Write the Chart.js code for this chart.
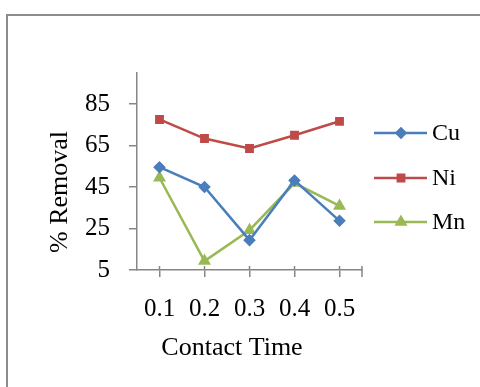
<!DOCTYPE html>
<html>
<head>
<meta charset="utf-8">
<script src="https://cdn.jsdelivr.net/npm/chart.js@4"></script>
<style>
  html, body { margin: 0; padding: 0; background: #fff; }
  #chart { display: block; }
</style>
</head>
<body>
<canvas id="chart" width="480" height="387"></canvas>
<script>
const categories = ["0.1", "0.2", "0.3", "0.4", "0.5"];
const cuValues = [54.6, 45.0, 19.4, 48.2, 28.7];
const niValues = [77.6, 68.4, 63.6, 70.0, 76.7];
const mnValues = [49.5, 9.3, 24.2, 46.9, 35.9];
const yTickValues = [5, 25, 45, 65, 85];
const xTitle = "Contact Time";
const yTitle = "% Removal";

const serif = "'Liberation Serif', 'Times New Roman', serif";
const axisGray = "#868686";

// frame, axis titles, legend and the cross tick marks of the category axis
const decorations = {
  id: "decorations",
  afterDraw(chart) {
    const ctx = chart.ctx;
    const area = chart.chartArea;
    const xScale = chart.scales.x;
    ctx.save();

    ctx.strokeStyle = "#8c8c8c";
    ctx.lineWidth = 2;
    ctx.strokeRect(7, 15, 700, 700);

    ctx.strokeStyle = axisGray;
    ctx.lineWidth = 1.5;
    ctx.beginPath();
    categories.forEach((c, i) => {
      const x = xScale.getPixelForValue(i);
      ctx.moveTo(x, area.bottom - 4);
      ctx.lineTo(x, area.bottom);
    });
    ctx.moveTo(area.right, area.bottom - 4);
    ctx.lineTo(area.right, area.bottom + 7);
    ctx.stroke();

    ctx.fillStyle = "#000";
    ctx.font = "26px " + serif;
    ctx.textAlign = "center";
    ctx.textBaseline = "middle";
    ctx.fillText(xTitle, 232, 348);

    ctx.save();
    ctx.translate(60, 192);
    ctx.rotate(-Math.PI / 2);
    ctx.fillText(yTitle, 0, 0);
    ctx.restore();

    const rows = [133, 178, 222];
    chart.data.datasets.forEach((ds, i) => {
      const y = rows[i];
      ctx.strokeStyle = ds.borderColor;
      ctx.lineWidth = 2.5;
      ctx.beginPath();
      ctx.moveTo(374, y);
      ctx.lineTo(427, y);
      ctx.stroke();
      Chart.helpers.drawPoint(ctx, {
        pointStyle: ds.pointStyle,
        radius: ds.pointRadius,
        rotation: 0,
        borderWidth: 1
      }, 401, y);
      ctx.fillStyle = ds.borderColor;
      ctx.fill();
      ctx.fillStyle = "#000";
      ctx.font = "24px " + serif;
      ctx.textAlign = "left";
      ctx.fillText(ds.label, 432, y + 1);
    });

    ctx.restore();
  }
};

function series(label, values, color, pointStyle, radius) {
  return {
    label: label,
    data: values,
    borderColor: color,
    backgroundColor: color,
    pointBackgroundColor: color,
    pointBorderColor: color,
    pointStyle: pointStyle,
    pointRadius: radius,
    borderWidth: 2.5,
    tension: 0,
    fill: false
  };
}

new Chart(document.getElementById("chart"), {
  type: "line",
  data: {
    labels: categories,
    datasets: [
      series("Cu", cuValues, "#4a7ebb", "rectRot", 4.5),
      series("Ni", niValues, "#be4b48", "rect", 4.5),
      series("Mn", mnValues, "#98b954", "triangle", 5)
    ]
  },
  options: {
    responsive: false,
    animation: false,
    events: [],
    layout: { padding: { left: 0, top: 73, right: 118, bottom: 0 } },
    plugins: {
      legend: { display: false },
      tooltip: { enabled: false }
    },
    scales: {
      x: {
        offset: true,
        grid: {
          display: true,
          drawOnChartArea: false,
          drawTicks: true,
          tickLength: 7,
          offset: false,
          color: axisGray,
          lineWidth: 1.5
        },
        border: { color: axisGray, width: 1.5 },
        ticks: {
          color: "#000",
          font: { family: serif, size: 25 },
          padding: 17,
          maxRotation: 0
        },
        afterFit(scale) { scale.height = 117; }
      },
      y: {
        min: 5,
        max: 100,
        afterBuildTicks(scale) {
          scale.ticks = yTickValues.map((v) => ({ value: v }));
        },
        grid: {
          display: true,
          drawOnChartArea: false,
          drawTicks: true,
          tickLength: 8,
          color: axisGray,
          lineWidth: 1.5
        },
        border: { color: axisGray, width: 1.5 },
        ticks: {
          color: "#000",
          font: { family: serif, size: 25 },
          padding: 19
        },
        afterFit(scale) { scale.width = 137; }
      }
    }
  },
  plugins: [decorations]
});
</script>
</body>
</html>
